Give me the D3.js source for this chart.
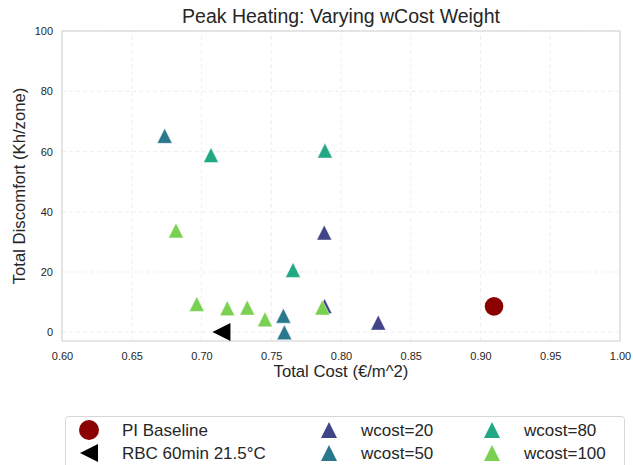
<!DOCTYPE html>
<html>
<head>
<meta charset="utf-8">
<script src="https://cdn.jsdelivr.net/npm/d3@7"></script>
<style>
  body { margin: 0; background: #fff; }
  svg { font-family: "Liberation Sans", Arial, sans-serif; }
</style>
</head>
<body>
<div id="chart"></div>
<script>
// values: [total cost, total discomfort]
var piBaseline = [[0.9097, 8.6]];
var rbc60 = [[0.7143, 0.1]];
var wcost20 = [[0.788, 33.1], [0.7882, 8.7], [0.8267, 3.2]];
var wcost50 = [[0.6736, 65.2], [0.7587, 5.5], [0.7594, 0.0]];
var wcost80 = [[0.7068, 58.8], [0.7885, 60.3], [0.7656, 20.7]];
var wcost100 = [[0.6817, 33.8], [0.6966, 9.4], [0.7185, 8.0], [0.7328, 8.2], [0.7455, 4.3], [0.7866, 8.2]];

var xTicks = [0.60, 0.65, 0.70, 0.75, 0.80, 0.85, 0.90, 0.95, 1.00];
var yTicks = [0, 20, 40, 60, 80, 100];

var series = [
  { name: "wcost=20", data: wcost20, color: "#414487" },
  { name: "wcost=50", data: wcost50, color: "#2a788e" },
  { name: "wcost=80", data: wcost80, color: "#22a884" },
  { name: "wcost=100", data: wcost100, color: "#7ad151" }
];

var width = 633, height = 465;
var margin = { left: 62, right: 13, top: 31, bottom: 124 };
var textColor = "#262626";

var svg = d3.select("#chart").append("svg")
  .attr("width", width).attr("height", height);

var x = d3.scaleLinear().domain([0.6, 1.0]).range([margin.left, width - margin.right]);
var y = d3.scaleLinear().domain([-2.9, 100]).range([height - margin.bottom, margin.top]);

// marker paths, centred like matplotlib markers
function triUp(s) { var h = s / 2; return "M0," + (-h) + "L" + h + "," + h + "L" + (-h) + "," + h + "Z"; }
function triLeft(s) { var h = s / 2; return "M" + (-h) + ",0L" + h + "," + (-h) + "L" + h + "," + h + "Z"; }

// grid
svg.append("g").selectAll("line").data(xTicks).enter().append("line")
  .attr("x1", function(d) { return x(d); }).attr("x2", function(d) { return x(d); })
  .attr("y1", y.range()[0]).attr("y2", y.range()[1])
  .attr("stroke", "#ebebeb").attr("stroke-dasharray", "4,3").attr("stroke-width", 0.8);
svg.append("g").selectAll("line").data(yTicks).enter().append("line")
  .attr("y1", function(d) { return y(d); }).attr("y2", function(d) { return y(d); })
  .attr("x1", x.range()[0]).attr("x2", x.range()[1])
  .attr("stroke", "#ebebeb").attr("stroke-dasharray", "4,3").attr("stroke-width", 0.8);

// frame
svg.append("rect")
  .attr("x", x.range()[0]).attr("y", y.range()[1])
  .attr("width", x.range()[1] - x.range()[0]).attr("height", y.range()[0] - y.range()[1])
  .attr("fill", "none").attr("stroke", "#d6d6d6").attr("stroke-width", 1.2);

// axes (labels only, seaborn whitegrid has no tick marks)
var xAxis = svg.append("g")
  .attr("transform", "translate(0," + y.range()[0] + ")")
  .call(d3.axisBottom(x).tickValues(xTicks).tickFormat(d3.format(".2f")).tickSize(0).tickPadding(11));
var yAxis = svg.append("g")
  .attr("transform", "translate(" + x.range()[0] + ",0)")
  .call(d3.axisLeft(y).tickValues(yTicks).tickSize(0).tickPadding(9));
[xAxis, yAxis].forEach(function(a) {
  a.select(".domain").remove();
  a.selectAll("text").attr("font-size", 11).attr("fill", textColor)
    .attr("font-family", "Liberation Sans, Arial, sans-serif");
});

// titles
svg.append("text").attr("x", (x.range()[0] + x.range()[1]) / 2).attr("y", 23)
  .attr("text-anchor", "middle").attr("font-size", 19.5).attr("fill", textColor)
  .text("Peak Heating: Varying wCost Weight");
svg.append("text").attr("x", (x.range()[0] + x.range()[1]) / 2).attr("y", 377)
  .attr("text-anchor", "middle").attr("font-size", 16.7).attr("fill", textColor)
  .text("Total Cost (€/m^2)");
svg.append("text").attr("transform", "translate(25," + ((y.range()[0] + y.range()[1]) / 2) + ") rotate(-90)")
  .attr("text-anchor", "middle").attr("font-size", 16.7).attr("fill", textColor)
  .text("Total Discomfort (Kh/zone)");

// points
var plot = svg.append("g");
series.forEach(function(s) {
  plot.selectAll(null).data(s.data).enter().append("path")
    .attr("d", triUp(15))
    .attr("transform", function(d) { return "translate(" + x(d[0]) + "," + y(d[1]) + ")"; })
    .attr("fill", s.color).attr("stroke", "#fff").attr("stroke-width", 0.5);
});
plot.selectAll(null).data(piBaseline).enter().append("circle")
  .attr("cx", function(d) { return x(d[0]); }).attr("cy", function(d) { return y(d[1]); })
  .attr("r", 9.3).attr("fill", "#8b0000");
plot.selectAll(null).data(rbc60).enter().append("path")
  .attr("d", triLeft(18))
  .attr("transform", function(d) { return "translate(" + x(d[0]) + "," + y(d[1]) + ")"; })
  .attr("fill", "#000");

// legend
var legend = svg.append("g");
legend.append("rect").attr("x", 65.5).attr("y", 416.5).attr("width", 559).attr("height", 70)
  .attr("rx", 3).attr("fill", "#fff").attr("stroke", "#d6d6d6").attr("stroke-width", 1);

var legendItems = [
  { name: "PI Baseline", kind: "circle", color: "#8b0000" },
  { name: "RBC 60min 21.5°C", kind: "left", color: "#000" }
].concat(series.map(function(s) { return { name: s.name, kind: "up", color: s.color }; }));
var colMarker = [89, 329, 492], colText = [122, 361, 524], rowY = [430, 453];

legendItems.forEach(function(it, i) {
  var c = Math.floor(i / 2), r = i % 2;
  var g = legend.append("g").attr("transform", "translate(" + colMarker[c] + "," + rowY[r] + ")");
  if (it.kind === "circle") g.append("circle").attr("r", 10).attr("fill", it.color);
  else if (it.kind === "left") g.append("path").attr("d", triLeft(18)).attr("fill", it.color);
  else g.append("path").attr("d", triUp(16)).attr("fill", it.color);
  legend.append("text").attr("x", colText[c]).attr("y", rowY[r])
    .attr("dy", "0.35em").attr("font-size", 17).attr("fill", textColor)
    .text(it.name);
});
</script>
</body>
</html>
